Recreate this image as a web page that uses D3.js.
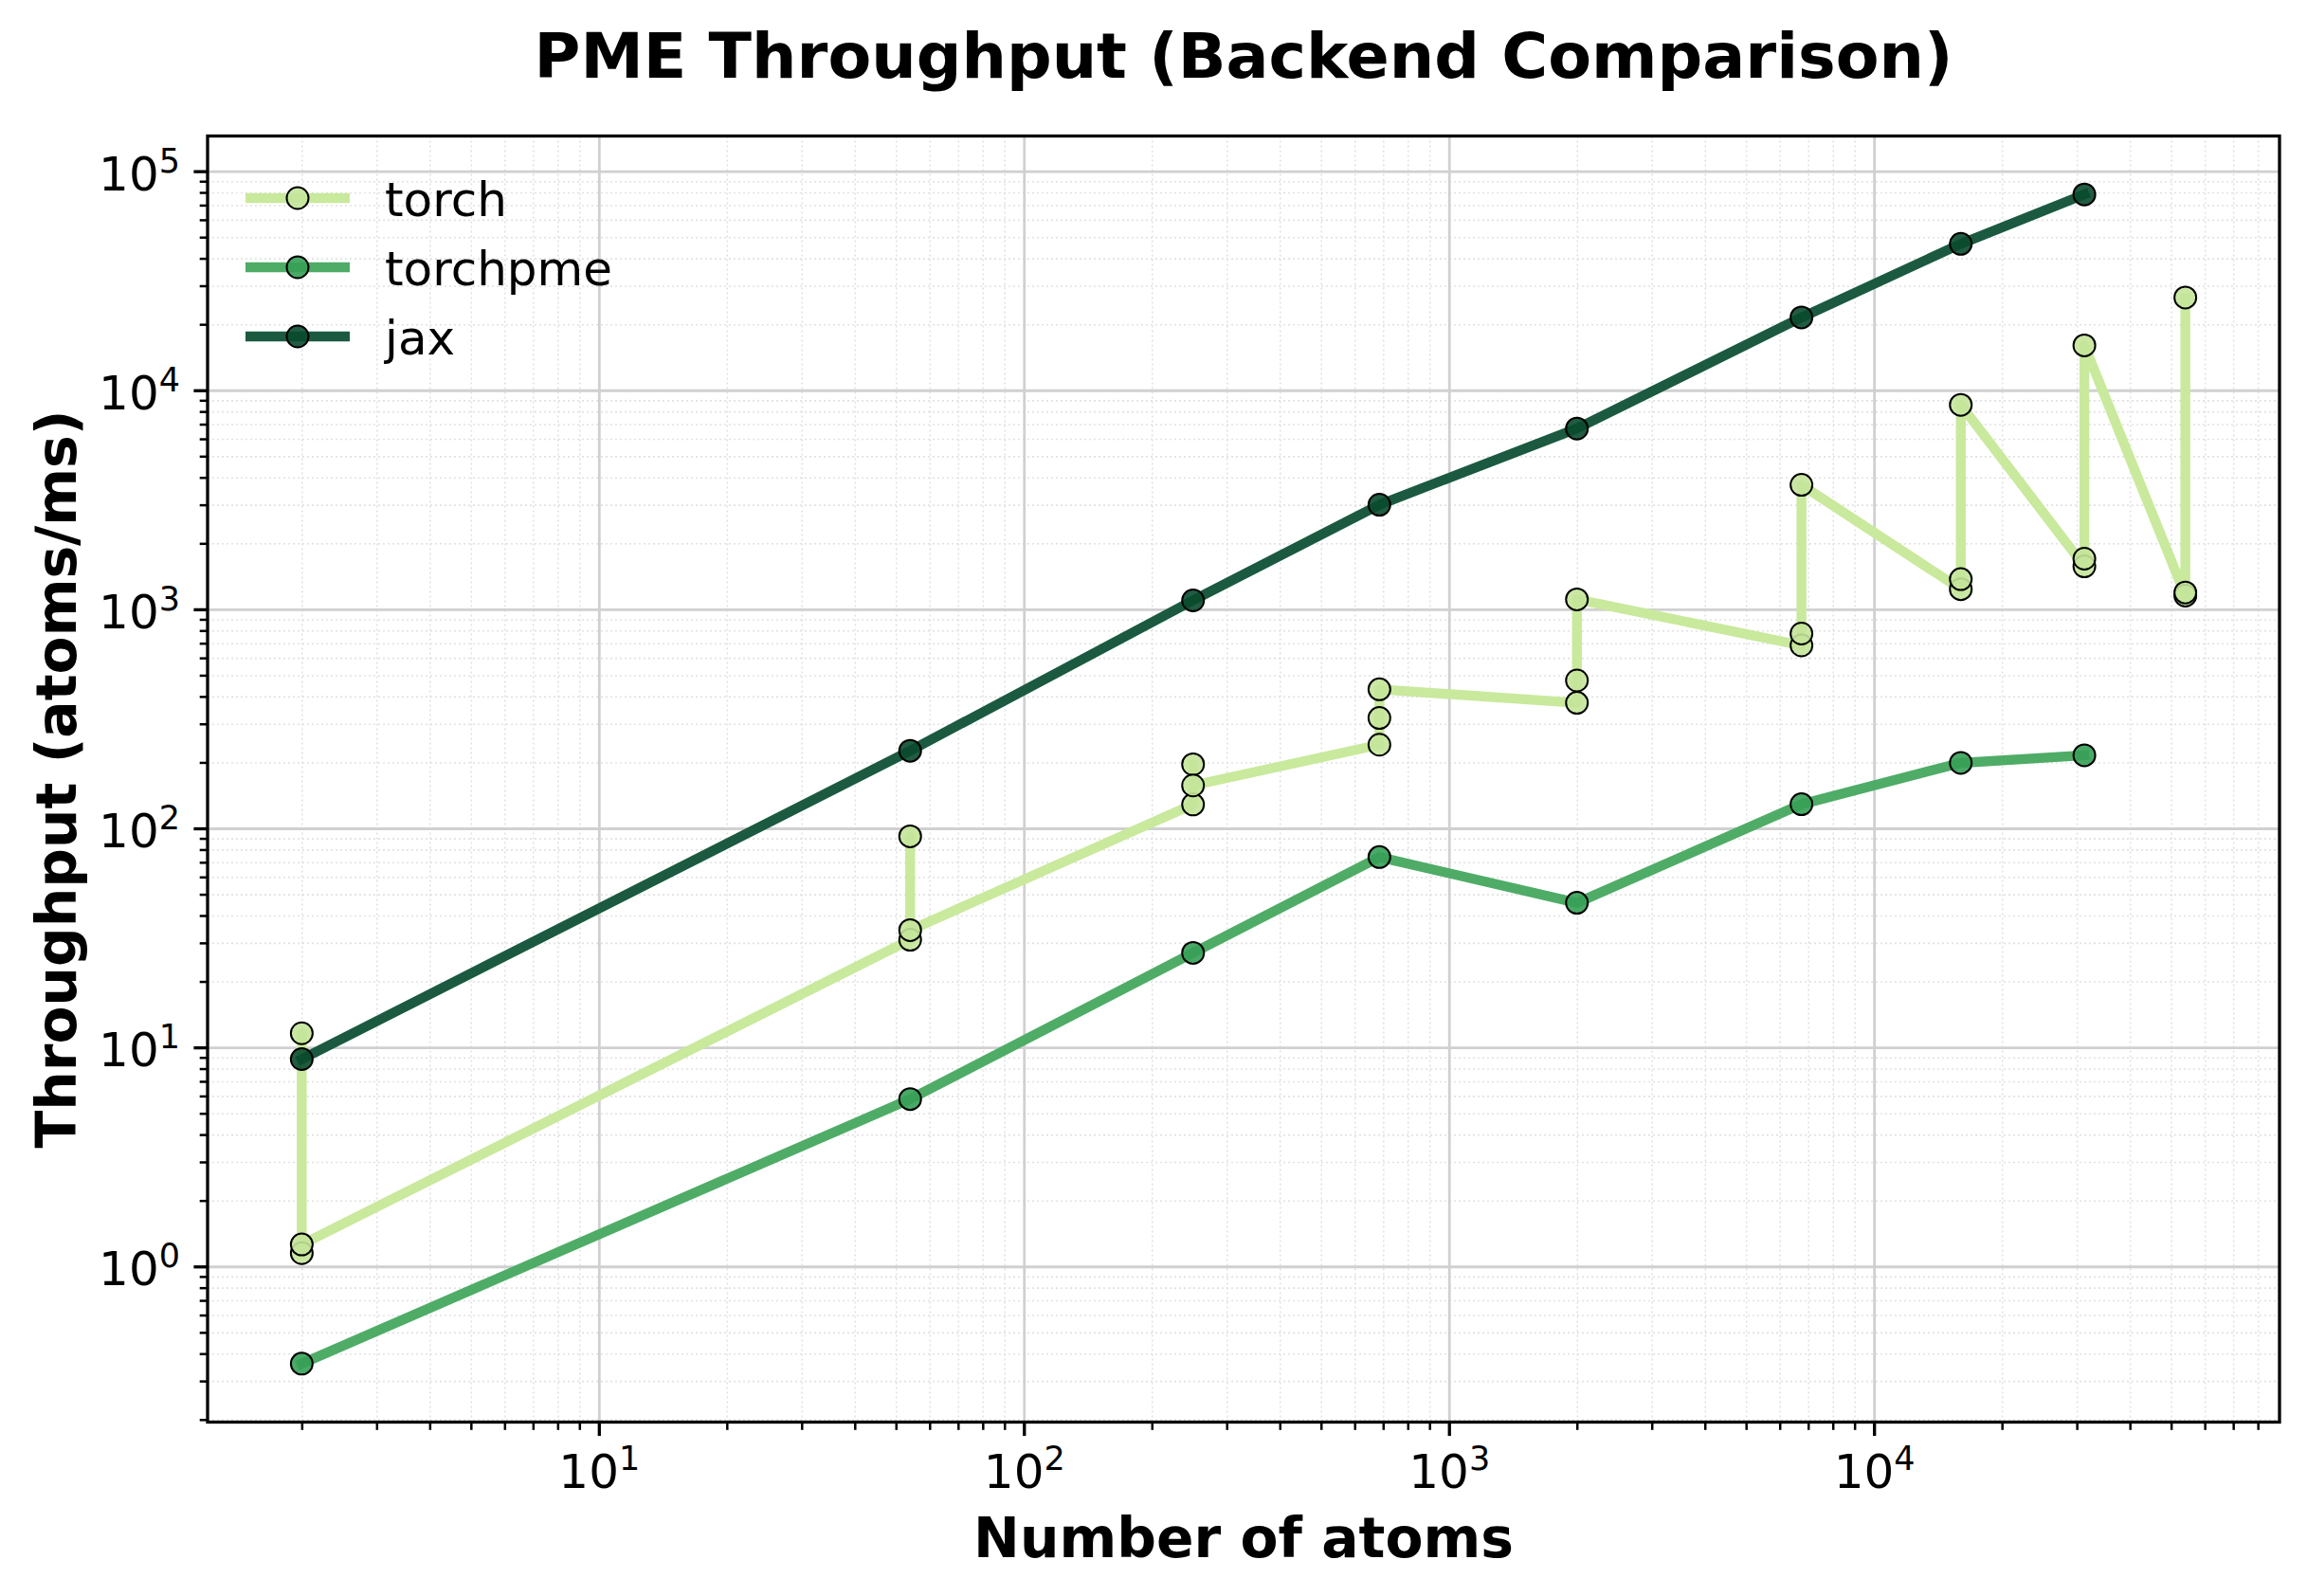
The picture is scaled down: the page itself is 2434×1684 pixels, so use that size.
<!DOCTYPE html>
<html>
<head>
<meta charset="utf-8">
<script src="https://cdn.jsdelivr.net/npm/d3@7"></script>
<style>
  html, body { margin: 0; padding: 0; background: #ffffff; }
  svg { display: block; font-family: "DejaVu Sans", sans-serif; }
</style>
</head>
<body>
<svg id="chart" width="2434" height="1684"></svg>
<script>
// ---------------- data ----------------
const atoms = [2, 54, 250, 686, 2000, 6750, 16000, 31250, 54000];
const jaxAtoms = [2, 54, 250, 686, 2000, 6750, 16000, 31250];
const jaxValues = [8.84, 226, 1098, 3002, 6683, 21500, 46560, 78300];
const torchpmeAtoms = [2, 54, 250, 686, 2000, 6750, 16000, 31250];
const torchpmeValues = [0.36, 5.81, 27.0, 73.9, 45.7, 128.8, 199, 215.6];
const torchAtoms = [2, 2, 2, 54, 54, 54, 250, 250, 250, 686, 686, 686, 2000, 2000, 2000,
                    6750, 6750, 6750, 16000, 16000, 16000, 31250, 31250, 31250, 54000, 54000, 54000];
const torchValues = [1.15, 11.6, 1.26, 31.0, 92, 34.3, 128.5, 196, 157, 241, 319, 431, 374, 473, 1110,
                     684, 775, 3700, 1235, 1373, 8580, 1570, 1702, 16030, 1155, 1193, 26500];
const seriesNames = ["torch", "torchpme", "jax"];
const xTickExps = [1, 2, 3, 4];
const yTickExps = [0, 1, 2, 3, 4, 5];
const titleText = "PME Throughput (Backend Comparison)";
const xLabelText = "Number of atoms";
const yLabelText = "Throughput (atoms/ms)";

// ---------------- styles ----------------
const styles = {
  torch:    { line: "#c9e99d", marker: "#c4e69a" },
  torchpme: { line: "#4fac67", marker: "#35a055" },
  jax:      { line: "#1b5a40", marker: "#0a4a2e" }
};

const W = 2434, H = 1684;
const margin = { left: 219, right: 29, top: 143.5, bottom: 183.5 };
const pw = W - margin.left - margin.right;
const ph = H - margin.top - margin.bottom;

const svg = d3.select("#chart");

// log-space autoscale with 5% margins (matplotlib-like)
function logDomain(vals) {
  const lo = Math.log10(d3.min(vals)), hi = Math.log10(d3.max(vals));
  const r = hi - lo;
  return [Math.pow(10, lo - 0.05 * r), Math.pow(10, hi + 0.05 * r)];
}
const allY = torchValues.concat(torchpmeValues, jaxValues);
const x = d3.scaleLog().domain(logDomain(atoms)).range([0, pw]);
const y = d3.scaleLog().domain(logDomain(allY)).range([ph, 0]);

function minorTicks(scale) {
  const [d0, d1] = scale.domain();
  const out = [];
  for (let e = Math.floor(Math.log10(d0)); e <= Math.ceil(Math.log10(d1)); e++) {
    for (let m = 2; m <= 9; m++) {
      const v = m * Math.pow(10, e);
      if (v >= d0 && v <= d1) out.push(v);
    }
  }
  return out;
}
const xMinor = minorTicks(x), yMinor = minorTicks(y);
const xMajor = xTickExps.map(e => Math.pow(10, e));
const yMajor = yTickExps.map(e => Math.pow(10, e));

const g = svg.append("g").attr("transform", `translate(${margin.left},${margin.top})`);

// ---------------- grid ----------------
const gridG = g.append("g").attr("class", "grid");
gridG.append("g").attr("transform", `translate(0,${ph})`)
  .call(d3.axisBottom(x).tickValues(xMinor).tickSize(-ph).tickFormat(""))
  .call(s => s.select(".domain").remove())
  .selectAll("line").attr("stroke", "#e2e2e2").attr("stroke-width", 1.6).attr("stroke-dasharray", "2,3");
gridG.append("g")
  .call(d3.axisLeft(y).tickValues(yMinor).tickSize(-pw).tickFormat(""))
  .call(s => s.select(".domain").remove())
  .selectAll("line").attr("stroke", "#e2e2e2").attr("stroke-width", 1.6).attr("stroke-dasharray", "2,3");
gridG.append("g").attr("transform", `translate(0,${ph})`)
  .call(d3.axisBottom(x).tickValues(xMajor).tickSize(-ph).tickFormat(""))
  .call(s => s.select(".domain").remove())
  .selectAll("line").attr("stroke", "#d0d0d0").attr("stroke-width", 2.8);
gridG.append("g")
  .call(d3.axisLeft(y).tickValues(yMajor).tickSize(-pw).tickFormat(""))
  .call(s => s.select(".domain").remove())
  .selectAll("line").attr("stroke", "#d0d0d0").attr("stroke-width", 2.8);

// ---------------- data lines ----------------
const lineGen = d3.line().x(d => x(d[0])).y(d => y(d[1]));
const series = [
  { name: "torch", pts: d3.zip(torchAtoms, torchValues) },
  { name: "torchpme", pts: d3.zip(torchpmeAtoms, torchpmeValues) },
  { name: "jax", pts: d3.zip(jaxAtoms, jaxValues) }
];
const dataG = g.append("g");
series.forEach(s => {
  const st = styles[s.name];
  const sg = dataG.append("g");
  sg.append("path").datum(s.pts)
    .attr("d", lineGen)
    .attr("fill", "none")
    .attr("stroke", st.line)
    .attr("stroke-width", 10.4)
    .attr("stroke-linejoin", "round")
    .attr("stroke-linecap", "square");
  sg.selectAll("circle").data(s.pts).join("circle")
    .attr("cx", d => x(d[0]))
    .attr("cy", d => y(d[1]))
    .attr("r", 11.5)
    .attr("fill", st.marker)
    .attr("fill-opacity", 0.9)
    .attr("stroke", "#000")
    .attr("stroke-width", 2);
});

// ---------------- axes ----------------
function supLabel(sel, exps) {
  sel.each(function(d, i) {
    const t = d3.select(this);
    t.text(null);
    t.append("tspan").text("10");
    t.append("tspan").attr("font-size", 35).attr("dy", -19).text(String(exps[i]));
  });
}
// x minor ticks
g.append("g").attr("transform", `translate(0,${ph})`)
  .call(d3.axisBottom(x).tickValues(xMinor).tickSize(8.3).tickFormat(""))
  .call(s => s.select(".domain").remove())
  .selectAll("line").attr("stroke", "#000").attr("stroke-width", 2.5);
// y minor ticks
g.append("g")
  .call(d3.axisLeft(y).tickValues(yMinor).tickSize(8.3).tickFormat(""))
  .call(s => s.select(".domain").remove())
  .selectAll("line").attr("stroke", "#000").attr("stroke-width", 2.5);
// x major
const xAx = g.append("g").attr("transform", `translate(0,${ph})`)
  .call(d3.axisBottom(x).tickValues(xMajor).tickSize(14.6).tickPadding(0).tickFormat(() => "10"))
  .call(s => s.select(".domain").remove());
xAx.selectAll("line").attr("stroke", "#000").attr("stroke-width", 3.3);
xAx.selectAll("text")
  .attr("dy", null).attr("y", 69.5)
  .attr("font-size", 50).attr("fill", "#000")
  .attr("font-family", "DejaVu Sans")
  .call(sel => supLabel(sel, xTickExps));
// y major
const yAx = g.append("g")
  .call(d3.axisLeft(y).tickValues(yMajor).tickSize(14.6).tickPadding(0).tickFormat(() => "10"))
  .call(s => s.select(".domain").remove());
yAx.selectAll("line").attr("stroke", "#000").attr("stroke-width", 3.3);
yAx.selectAll("text")
  .attr("dy", null).attr("x", -29).attr("y", 19.5)
  .attr("font-size", 50).attr("fill", "#000")
  .attr("font-family", "DejaVu Sans")
  .call(sel => supLabel(sel, yTickExps));

// frame
g.append("rect").attr("x", 0).attr("y", 0).attr("width", pw).attr("height", ph)
  .attr("fill", "none").attr("stroke", "#000").attr("stroke-width", 3.3);

// ---------------- legend ----------------
const legG = svg.append("g");
const legY0 = 209, legStep = 73;
seriesNames.forEach((name, i) => {
  const st = styles[name];
  const yy = legY0 + i * legStep;
  legG.append("line").attr("x1", 259).attr("x2", 369).attr("y1", yy).attr("y2", yy)
    .attr("stroke", st.line).attr("stroke-width", 10.4);
  legG.append("circle").attr("cx", 314).attr("cy", yy).attr("r", 11.5)
    .attr("fill", st.marker).attr("fill-opacity", 0.9).attr("stroke", "#000").attr("stroke-width", 2);
  legG.append("text").attr("x", 406).attr("y", yy + 19)
    .attr("font-size", 50).attr("fill", "#000").text(name);
});

// ---------------- titles ----------------
const cx = margin.left + pw / 2;
svg.append("text").attr("x", cx).attr("y", 82).attr("text-anchor", "middle")
  .attr("font-size", 66.7).attr("font-weight", "bold").text(titleText);
svg.append("text").attr("x", cx).attr("y", 1643).attr("text-anchor", "middle")
  .attr("font-size", 58.3).attr("font-weight", "bold").text(xLabelText);
svg.append("text")
  .attr("transform", `translate(80,${margin.top + ph / 2}) rotate(-90)`)
  .attr("text-anchor", "middle")
  .attr("font-size", 58.3).attr("font-weight", "bold").text(yLabelText);
</script>
</body>
</html>
